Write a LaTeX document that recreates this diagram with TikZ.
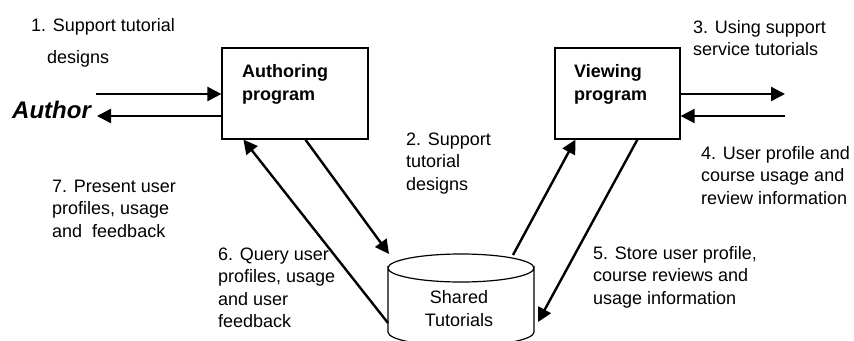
\documentclass[tikz,border=0pt]{standalone}
\usepackage{fontspec}
\setmainfont{Liberation Sans}
\usetikzlibrary{arrows.meta}
\begin{document}
\begin{tikzpicture}[x=1pt,y=-1pt,
  lbl/.style={font=\fontsize{18}{22.5}\selectfont, align=left, anchor=base west, inner sep=0pt},
  boxlbl/.style={font=\fontsize{18}{23}\selectfont\bfseries, align=left, anchor=base west, inner sep=0pt},
  prog/.style={draw, line width=1.2pt, minimum height=91pt, inner sep=0pt},
  flow/.style={line width=2.4pt, -{Triangle[length=14pt,width=14pt]}}
]
\useasboundingbox (0,0) rectangle (854,340);
\clip (0,0) rectangle (854,340);
% boxes
\node[prog, minimum width=146pt] (auth) at (295,93.5) {};
\node[prog, minimum width=125pt] (view) at (617.5,93.5) {};
\node[boxlbl] (authtxt) at (242,100) {Authoring\\program};
\node[boxlbl] (viewtxt) at (574,100) {Viewing\\program};
% cylinder
\draw[line width=1.2pt, fill=white] (388,268) -- (388,332) arc[start angle=180, end angle=0, x radius=73, y radius=14] -- (534,268) arc[start angle=0, end angle=180, x radius=73, y radius=14] -- cycle;
\draw[line width=1.2pt] (388,268) arc[start angle=180, end angle=360, x radius=73, y radius=14];
\node[inner sep=0pt, minimum width=146pt, minimum height=80pt] (cyl) at (461,300) {};
\node[font=\fontsize{18}{23}\selectfont, align=center, anchor=base, inner sep=0pt] (cyltxt) at (459,326) {Shared\\Tutorials};
% cylinder anchor points
\coordinate (cyltl) at (389,254);
\coordinate (cylleft) at (388,323);
\coordinate (cyltr) at (513,255);
\coordinate (cylright) at (538,322);
% author
\node[font=\fontsize{24}{28}\selectfont\bfseries\itshape, anchor=base west, inner sep=0pt] (author) at (12,118) {Author};
\coordinate (authin) at (96,94);
\coordinate (authout) at (97,116);
\coordinate (userin) at (785,116);
\coordinate (userout) at (785,94);
% arrows
\draw[flow] (authin) -- (auth.west |- authin);
\draw[flow] (auth.west |- authout) -- (authout);
\draw[flow] (view.east |- userout) -- (userout);
\draw[flow] (userin) -- (view.east |- userin);
\draw[flow] ([xshift=84pt]auth.south west) -- (cyltl);
\draw[flow] (cylleft) -- ([xshift=22pt]auth.south west);
\draw[flow] (cyltr) -- ([xshift=21pt]view.south west);
\draw[flow] ([xshift=83pt]view.south west) -- (cylright);
% labels
\node[lbl] (l1) at (31,63) {1. Support tutorial\\[9.5pt]\hspace{16pt}designs};
\node[lbl] (l2) at (406,190) {2. Support\\tutorial\\designs};
\node[lbl] (l3) at (693,55.5) {3. Using support\\service tutorials};
\node[lbl] (l4) at (701,204) {4. User profile and\\course usage and\\review information};
\node[lbl] (l5) at (593,304) {5. Store user profile,\\course reviews and\\usage information};
\node[lbl] (l6) at (218,327.5) {6. Query user\\profiles, usage\\and user\\feedback};
\node[lbl] (l7) at (52,237) {7. Present user\\profiles, usage\\and\ \ feedback};
\end{tikzpicture}
\end{document}
